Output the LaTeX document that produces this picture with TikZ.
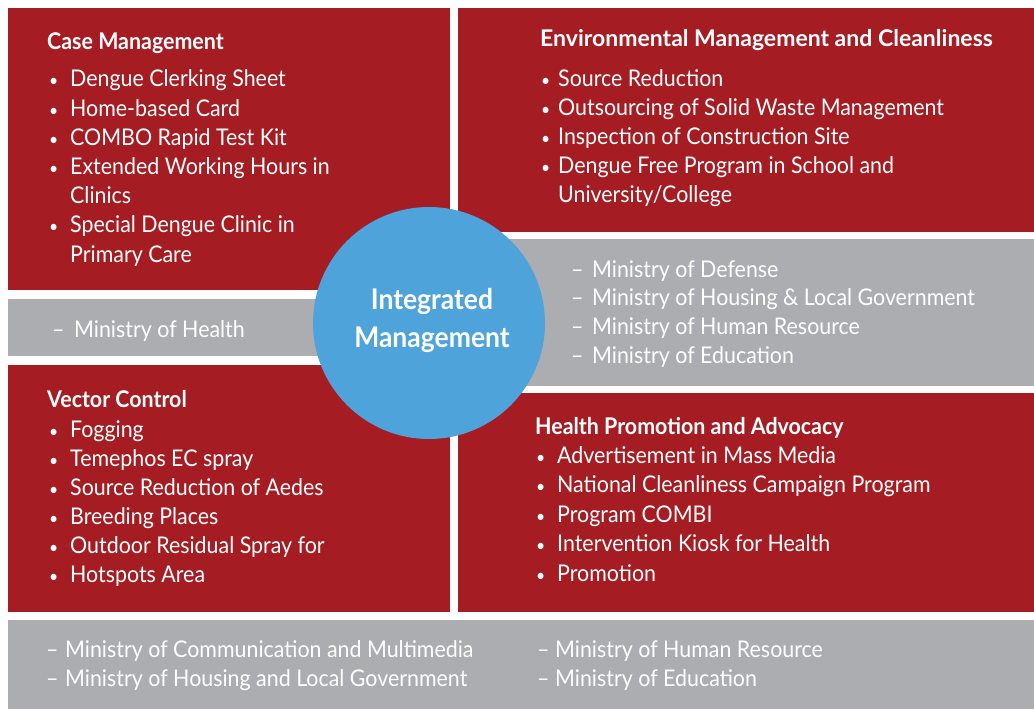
\documentclass[tikz,border=0pt]{standalone}
\usepackage{fontspec}
\setmainfont{Lato}[FakeStretch=0.93]
\newfontfamily\widefont{Lato}[FakeStretch=1.0]

\definecolor{boxred}{HTML}{A51D23}
\definecolor{bandgray}{HTML}{ACADB0}
\definecolor{hubblue}{HTML}{4FA3DB}

\tikzset{
  item/.style={anchor=base west, inner sep=0pt, text=white, font=\fontsize{23}{23}\selectfont},
  bul/.style={anchor=base west, inner sep=0pt, text=white, font=\fontsize{17}{17}\selectfont},
  head/.style={anchor=base west, inner sep=0pt, text=white, font=\fontsize{23}{23}\selectfont\bfseries},
  hubtext/.style={anchor=base, inner sep=0pt, text=white, font=\fontsize{28.5}{28.5}\selectfont\bfseries}
}

\begin{document}
\begin{tikzpicture}[x=1pt,y=-1pt]

    \fill[white] (0,0) rectangle (1034,709);
    \useasboundingbox (0,0) rectangle (1034,709);

    \fill[boxred] (8,8) rectangle (450,290);
    \fill[boxred] (458,8) rectangle (1034,232);
    \fill[boxred] (8,365) rectangle (450,612);
    \fill[boxred] (458,393) rectangle (1034,612);
    \fill[bandgray] (8,299) rectangle (440,356);
    \fill[bandgray] (450,239) rectangle (1034,386);
    \fill[bandgray] (8,620) rectangle (1034,709);
    \fill[hubblue] (429,323) circle (116pt);

    \node[hubtext] (hub-1) at (432,309) {Integrated};
    \node[hubtext] (hub-2) at (432,347) {Management};

    \node[head] (case) at (47,50) {Case Management};
    \foreach \k/\bul/\txt in {0/1/Dengue Clerking Sheet, 1/1/Home-based Card, 2/1/COMBO Rapid Test Kit,
        3/1/Extended Working Hours in, 4/0/Clinics, 5/1/Special Dengue Clinic in, 6/0/Primary Care} {
      \ifnum\bul=1 \node[bul] (case-dot-\k) at (49,87+29.17*\k) {•}; \fi
      \node[item] (case-\k) at (70,87+29.17*\k) {\txt};
    }

    \node[head, font=\fontsize{23}{23}\selectfont\widefont\bfseries] (env) at (540,47) {Environmental Management and Cleanliness};
    \foreach \k/\bul/\txt in {0/1/Source Reduction, 1/1/Outsourcing of Solid Waste Management,
        2/1/Inspection of Construction Site, 3/1/Dengue Free Program in School and, 4/0/{University/College}} {
      \ifnum\bul=1 \node[bul] (env-dot-\k) at (541,86+29*\k) {•}; \fi
      \node[item] (env-\k) at (558,86+29*\k) {\txt};
    }

    \node[item] (moh-dash) at (52,337) {–};
    \node[item] (moh) at (74,337) {Ministry of Health};

    \foreach \k/\txt in {0/Ministry of Defense, 1/Ministry of Housing \& Local Government,
        2/Ministry of Human Resource, 3/Ministry of Education} {
      \node[item] (min-dash-\k) at (571,277+28.7*\k) {–};
      \node[item] (min-\k) at (592,277+28.7*\k) {\txt};
    }

    \node[head] (vec) at (47,407) {Vector Control};
    \foreach \k/\txt in {0/Fogging, 1/Temephos EC spray, 2/Source Reduction of Aedes, 3/Breeding Places,
        4/Outdoor Residual Spray for, 5/Hotspots Area} {
      \node[bul] (vec-dot-\k) at (49,437+29*\k) {•};
      \node[item] (vec-\k) at (70,437+29*\k) {\txt};
    }

    \node[head] (hpa) at (535,434) {Health Promotion and Advocacy};
    \foreach \k/\txt in {0/Advertisement in Mass Media, 1/National Cleanliness Campaign Program, 2/Program COMBI,
        3/Intervention Kiosk for Health, 4/Promotion} {
      \node[bul] (hpa-dot-\k) at (536,463+29.5*\k) {•};
      \node[item] (hpa-\k) at (557,463+29.5*\k) {\txt};
    }

    \foreach \k/\txt in {0/Ministry of Communication and Multimedia, 1/Ministry of Housing and Local Government} {
      \node[item] (low-dash-\k) at (46,657+29*\k) {–};
      \node[item] (low-\k) at (65,657+29*\k) {\txt};
    }
    \foreach \k/\txt in {0/Ministry of Human Resource, 1/Ministry of Education} {
      \node[item] (lowr-dash-\k) at (537,657+29*\k) {–};
      \node[item] (lowr-\k) at (555,657+29*\k) {\txt};
    }

\end{tikzpicture}
\end{document}
